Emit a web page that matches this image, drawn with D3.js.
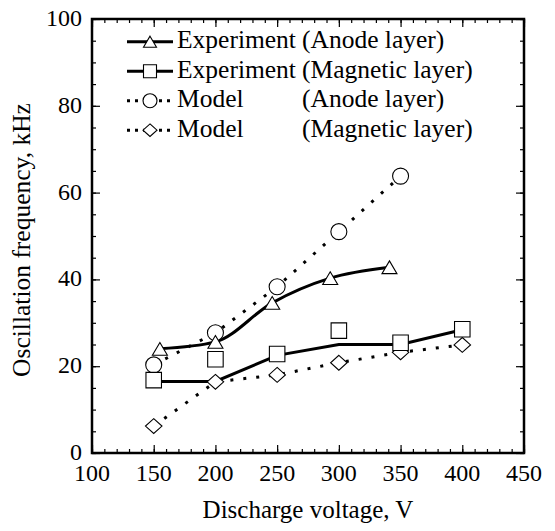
<!DOCTYPE html>
<html><head><meta charset="utf-8">
<script src="https://cdn.jsdelivr.net/npm/d3@7"></script>
<style>body{margin:0;background:#fff}svg{display:block}</style>
</head><body>
<svg id="c" width="555" height="531"></svg>
<script>
// ---- data ----
const xTicks = [100,150,200,250,300,350,400,450];
const yTicks = [0,20,40,60,80,100];
const expAnodeV = [155,200,246,293,341];
const expAnodeF = [24.0,25.6,34.6,40.3,42.8];
const expMagV = [150,200,250,300,350,400];
const expMagF = [16.8,21.6,22.8,28.2,25.4,28.5];
const expMagFitV = [150,200,250,300,350,400];
const expMagFitF = [16.5,16.5,22.5,25.0,25.0,28.4];
const modAnodeV = [150,200,250,300,350];
const modAnodeF = [20.3,27.7,38.3,51.0,63.8];
const modMagV = [150,200,250,300,350,400];
const modMagF = [6.2,16.4,18.0,20.8,23.2,24.9];
const legendLabels = ["Experiment","Experiment","Model","Model"];
const legendLayers = ["(Anode layer)","(Magnetic layer)","(Anode layer)","(Magnetic layer)"];

const FONT = "'Liberation Serif', 'Times New Roman', Times";
const svg = d3.select("#c");
const L=92,R=524,T=19,B=453;
const x = d3.scaleLinear().domain([100,450]).range([L,R]);
const y = d3.scaleLinear().domain([0,100]).range([B,T]);

function styleAxis(g){ g.select(".domain").remove(); g.selectAll("text").remove();
  g.selectAll("line").attr("stroke","#000").attr("stroke-width",1.2); }
const minorX = d3.range(100,451,10), minorY = d3.range(0,101,5);
svg.append("g").attr("transform",`translate(0,${B})`).call(d3.axisBottom(x).tickValues(minorX).tickSize(-4).tickFormat("")).call(styleAxis);
svg.append("g").attr("transform",`translate(0,${B})`).call(d3.axisBottom(x).tickValues(xTicks).tickSize(-8).tickFormat("")).call(styleAxis);
svg.append("g").attr("transform",`translate(0,${T})`).call(d3.axisTop(x).tickValues(minorX).tickSize(-4).tickFormat("")).call(styleAxis);
svg.append("g").attr("transform",`translate(0,${T})`).call(d3.axisTop(x).tickValues(xTicks).tickSize(-8).tickFormat("")).call(styleAxis);
svg.append("g").attr("transform",`translate(${L},0)`).call(d3.axisLeft(y).tickValues(minorY).tickSize(-4).tickFormat("")).call(styleAxis);
svg.append("g").attr("transform",`translate(${L},0)`).call(d3.axisLeft(y).tickValues(yTicks).tickSize(-8).tickFormat("")).call(styleAxis);
svg.append("g").attr("transform",`translate(${R},0)`).call(d3.axisRight(y).tickValues(minorY).tickSize(-4).tickFormat("")).call(styleAxis);
svg.append("g").attr("transform",`translate(${R},0)`).call(d3.axisRight(y).tickValues(yTicks).tickSize(-8).tickFormat("")).call(styleAxis);
svg.append("rect").attr("x",L).attr("y",T).attr("width",R-L).attr("height",B-T)
  .attr("fill","none").attr("stroke","#000").attr("stroke-width",2.5);

// tick labels
svg.append("g").selectAll("text").data(xTicks).join("text")
  .attr("x",d=>x(d)).attr("y",B+28).attr("text-anchor","middle")
  .style("font-family",FONT).style("font-size","24px").text(d=>d);
svg.append("g").selectAll("text").data(yTicks).join("text")
  .attr("x",L-10).attr("y",d=>y(d)+7).attr("text-anchor","end")
  .style("font-family",FONT).style("font-size","24px").text(d=>d);

// titles
svg.append("text").attr("x",(L+R)/2).attr("y",518).attr("text-anchor","middle")
  .style("font-family",FONT).style("font-size","25px").text("Discharge voltage, V");
svg.append("text").attr("transform",`translate(30,${(T+B)/2+4}) rotate(-90)`).attr("text-anchor","middle")
  .style("font-family",FONT).style("font-size","25.5px").text("Oscillation frequency, kHz");

// markers
const sym = {
  tri:(s)=>{const w=s, h=s*0.85; return `M0,${-h/2}L${w/2},${h/2}L${-w/2},${h/2}Z`;},
  sq:(s)=>{const a=s/2; return `M${-a},${-a}H${a}V${a}H${-a}Z`;},
  circ:(s)=>{const r=s/2; return `M${r},0A${r},${r} 0 1,1 ${-r},0A${r},${r} 0 1,1 ${r},0Z`;},
  dia:(s)=>{const a=s/2, b=s*0.45; return `M0,${-b}L${a},0L0,${b}L${-a},0Z`;}
};
const zip=(a,b)=>a.map((v,i)=>[v,b[i]]);
const line = d3.line().x(d=>x(d[0])).y(d=>y(d[1]));
const solid = {stroke:"#000","stroke-width":3,fill:"none"};
const dotted = {stroke:"#000","stroke-width":3,fill:"none","stroke-dasharray":"3,10"};
function path(data,curve,st){const p=svg.append("path").attr("d",line.curve(curve)(data)); for(const k in st) p.attr(k,st[k]); return p;}

path(zip(modAnodeV,modAnodeF),d3.curveLinear,dotted);
path(zip(modMagV,modMagF),d3.curveLinear,dotted);
path(zip(expAnodeV,expAnodeF),d3.curveMonotoneX,solid);
path(zip(expMagFitV,expMagFitF),d3.curveLinear,solid);

function marks(data,shape,size){
  svg.append("g").selectAll("path").data(data).join("path")
   .attr("transform",d=>`translate(${x(d[0])},${y(d[1])})`).attr("d",sym[shape](size))
   .attr("fill","#fff").attr("stroke","#000").attr("stroke-width",1.1);
}
marks(zip(modAnodeV,modAnodeF),"circ",16);
marks(zip(modMagV,modMagF),"dia",16.5);
marks(zip(expMagV,expMagF),"sq",15.5);
marks(zip(expAnodeV,expAnodeF),"tri",15);

// legend
const shapes=["tri","sq","circ","dia"], styles=[solid,solid,dotted,dotted];
legendLabels.forEach((lab,i)=>{
  const yy = 41.7 + i*29.5;
  const p = svg.append("path").attr("d",`M127,${yy}H173`);
  const st = Object.assign({},styles[i]); if(i>1) st["stroke-dasharray"]="3,5";
  for(const k in st) p.attr(k,st[k]);
  svg.append("path").attr("transform",`translate(150,${yy})`).attr("d",sym[shapes[i]](i<2?13:14))
    .attr("fill","#fff").attr("stroke","#000").attr("stroke-width",1.1);
  svg.append("text").attr("x",177).attr("y",yy+6.5).style("font-family",FONT).style("font-size","25.5px").text(lab);
  svg.append("text").attr("x",302).attr("y",yy+6.5).style("font-family",FONT).style("font-size","25.5px").text(legendLayers[i]);
});
</script>
</body></html>
